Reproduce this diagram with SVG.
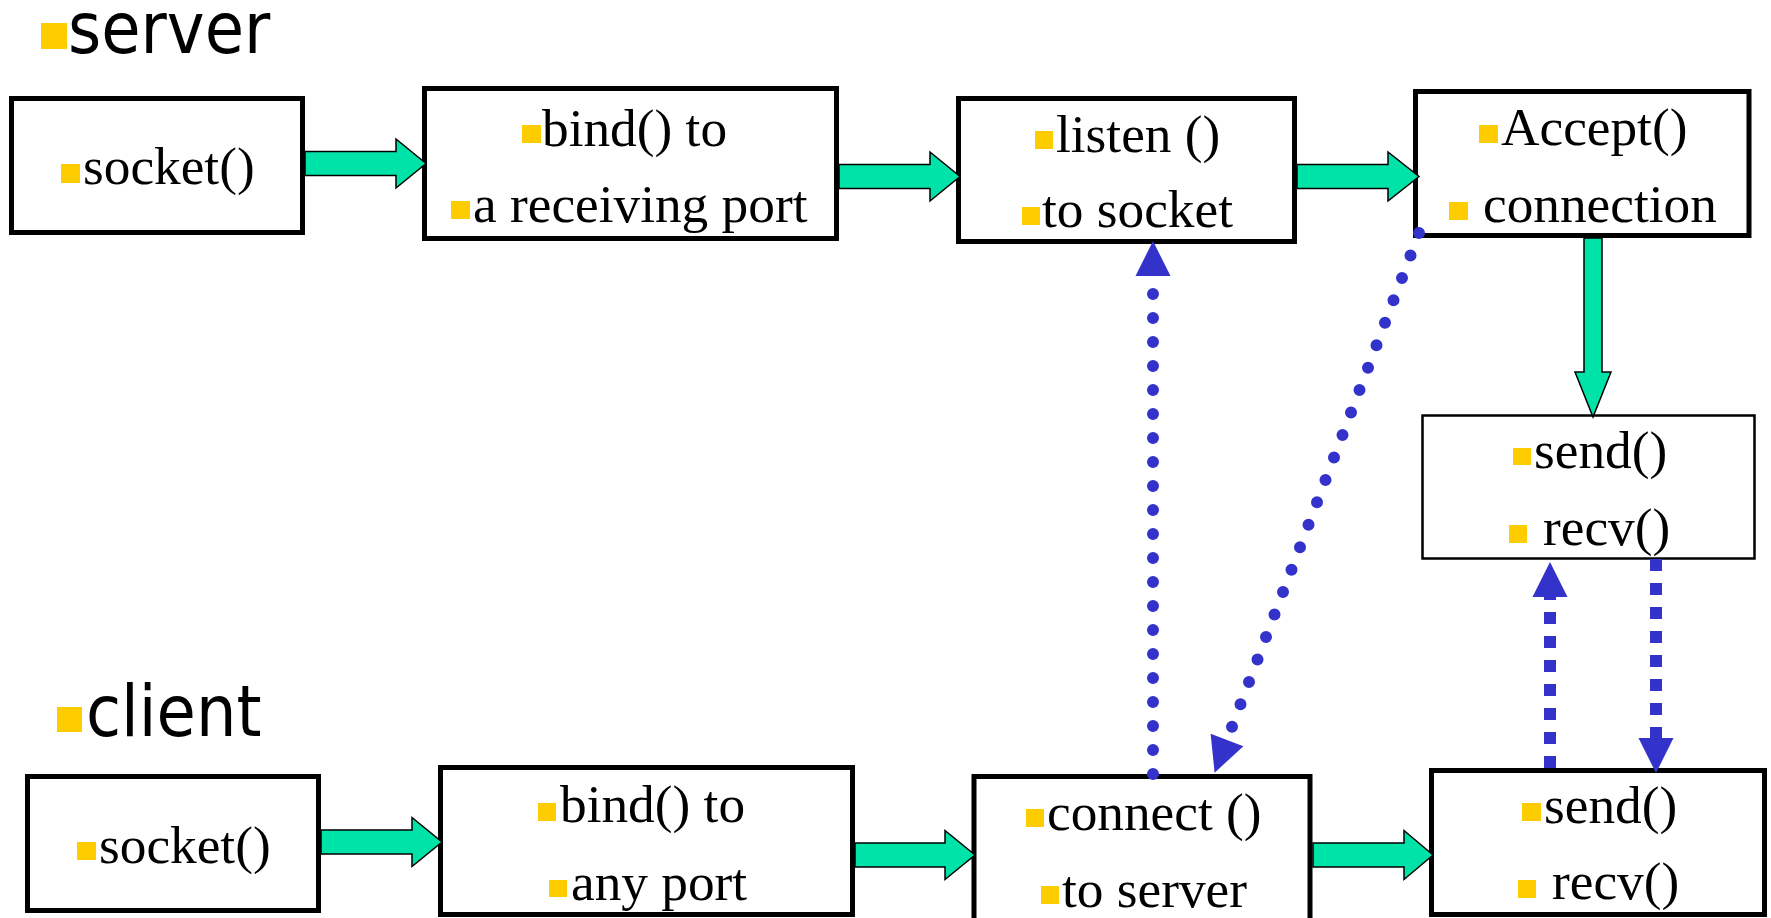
<svg xmlns="http://www.w3.org/2000/svg" width="1771" height="918" viewBox="0 0 1771 918">
  <style>
    .box { fill: #ffffff; stroke: #000000; stroke-width: 5; }
    .box-thin { fill: #ffffff; stroke: #000000; stroke-width: 2.5; }
    .bullet { fill: #ffcc00; }
    .t { font-family: "Liberation Serif", "Times New Roman", serif; font-size: 53.3px; fill: #000000; }
    .label { font-family: "DejaVu Sans Condensed", "DejaVu Sans", sans-serif; font-stretch: condensed; font-size: 71px; fill: #000000; }
    .flow { fill: #00e3a8; stroke: #000000; stroke-width: 1.5; stroke-linejoin: miter; }
    .dots { fill: none; stroke: #3333cc; stroke-width: 12; stroke-linecap: round; stroke-dasharray: 0 24; }
    .dashes { fill: none; stroke: #3333cc; stroke-width: 12; stroke-linecap: butt; stroke-dasharray: 12 12; }
  </style>
  <defs>
    <marker id="blueHead" markerUnits="userSpaceOnUse" markerWidth="36" markerHeight="36" viewBox="0 -18 35 36" refX="0" refY="0" orient="auto" overflow="visible">
      <path d="M0,-17.5 L35,0 L0,17.5 Z" fill="#3333cc"/>
    </marker>
  </defs>

  <rect width="1771" height="918" fill="#ffffff"/>

  <!-- section labels -->
  <g id="label-server">
    <rect class="bullet" x="41" y="23" width="26" height="26"/>
    <text class="label" x="68" y="53">server</text>
  </g>
  <g id="label-client">
    <rect class="bullet" x="57" y="707" width="25" height="25"/>
    <text class="label" x="86" y="736">client</text>
  </g>

  <!-- server side -->
  <g id="server-socket">
    <rect class="box" x="11.5" y="98.5" width="291" height="134"/>
    <rect class="bullet" x="61" y="164" width="19" height="19"/>
    <text class="t" x="83" y="184">socket()</text>
  </g>
  <g id="server-bind">
    <rect class="box" x="424.5" y="88.5" width="412" height="150"/>
    <rect class="bullet" x="522" y="125" width="19" height="18"/>
    <text class="t" x="542" y="146">bind() to</text>
    <rect class="bullet" x="451" y="201" width="19" height="18"/>
    <text class="t" x="473" y="222">a receiving port</text>
  </g>
  <g id="server-listen">
    <rect class="box" x="958.5" y="98.5" width="336" height="143"/>
    <rect class="bullet" x="1035" y="131" width="18" height="18"/>
    <text class="t" x="1056" y="152">listen ()</text>
    <rect class="bullet" x="1022" y="207" width="18" height="18"/>
    <text class="t" x="1042" y="227">to socket</text>
  </g>
  <g id="server-accept">
    <rect class="box" x="1415.5" y="91.5" width="333.5" height="144"/>
    <rect class="bullet" x="1479" y="125" width="19" height="18"/>
    <text class="t" x="1501" y="145">Accept()</text>
    <rect class="bullet" x="1449" y="202" width="19" height="18"/>
    <text class="t" x="1483" y="222">connection</text>
  </g>
  <g id="server-sendrecv">
    <rect class="box-thin" x="1422.5" y="415.5" width="332" height="143"/>
    <rect class="bullet" x="1513" y="448" width="18" height="17"/>
    <text class="t" x="1534" y="468">send()</text>
    <rect class="bullet" x="1509" y="525" width="18" height="18"/>
    <text class="t" x="1543" y="545">recv()</text>
  </g>

  <!-- client side -->
  <g id="client-socket">
    <rect class="box" x="27.5" y="776.5" width="291" height="134"/>
    <rect class="bullet" x="77" y="842" width="19" height="18"/>
    <text class="t" x="99" y="863">socket()</text>
  </g>
  <g id="client-bind">
    <rect class="box" x="440.5" y="767.5" width="412" height="147"/>
    <rect class="bullet" x="538" y="803" width="18" height="18"/>
    <text class="t" x="560" y="822">bind() to</text>
    <rect class="bullet" x="549" y="880" width="18" height="17"/>
    <text class="t" x="571" y="900">any port</text>
  </g>
  <g id="client-connect">
    <rect class="box" x="974" y="776.5" width="336" height="160"/>
    <rect class="bullet" x="1026" y="809" width="18" height="18"/>
    <text class="t" x="1047" y="830">connect ()</text>
    <rect class="bullet" x="1041" y="886" width="18" height="18"/>
    <text class="t" x="1062" y="907">to server</text>
  </g>
  <g id="client-sendrecv">
    <rect class="box" x="1431.5" y="770.5" width="333" height="144"/>
    <rect class="bullet" x="1522" y="803" width="19" height="18"/>
    <text class="t" x="1544" y="823">send()</text>
    <rect class="bullet" x="1518" y="880" width="18" height="18"/>
    <text class="t" x="1552" y="899">recv()</text>
  </g>

  <!-- connectors -->
  <g id="connectors">
    <!-- server flow -->
    <path class="flow" d="M305,151.5 H396 V139 L426,163.5 L396,188 V175.5 H305 Z"/>
    <path class="flow" d="M839,164.5 H930 V152 L960,176.5 L930,201 V188.5 H839 Z"/>
    <path class="flow" d="M1297,164.5 H1388 V152 L1419,176.5 L1388,201 V188.5 H1297 Z"/>
    <path class="flow" d="M1584,238 V372 H1575 L1593,417 L1611,372 H1602 V238 Z"/>
    <!-- client flow -->
    <path class="flow" d="M321,830 H412 V817.5 L442,842 L412,866.5 V854 H321 Z"/>
    <path class="flow" d="M855,843 H945 V830.5 L975,855 L945,879.5 V867 H855 Z"/>
    <path class="flow" d="M1313,843 H1404 V830.5 L1433,855 L1404,879.5 V867 H1313 Z"/>
    <!-- handshake -->
    <path class="dots" d="M1153,774 L1153,276" marker-end="url(#blueHead)"/>
    <path class="dots" d="M1419,233 L1227,740" marker-end="url(#blueHead)"/>
    <!-- data exchange -->
    <path class="dashes" d="M1550,768 L1550,597" marker-end="url(#blueHead)"/>
    <path class="dashes" d="M1656,559 L1656,738" marker-end="url(#blueHead)"/>
  </g>
</svg>
